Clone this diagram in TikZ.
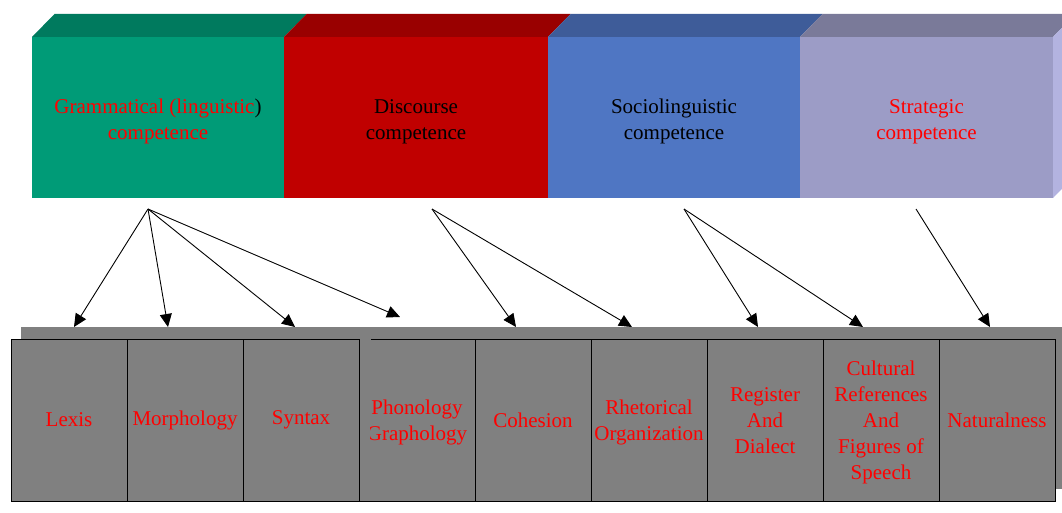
\documentclass[tikz,border=0pt]{standalone}
\usepackage{fontspec}
\setmainfont{Liberation Serif}
\usetikzlibrary{arrows.meta,positioning}

\definecolor{gramfront}{RGB}{0,155,119}
\definecolor{gramtop}{RGB}{0,122,94}
\definecolor{discfront}{RGB}{192,0,0}
\definecolor{disctop}{RGB}{153,0,0}
\definecolor{sociofront}{RGB}{79,118,195}
\definecolor{sociotop}{RGB}{62,92,153}
\definecolor{stratfront}{RGB}{156,156,198}
\definecolor{strattop}{RGB}{122,122,153}
\definecolor{stratside}{RGB}{179,179,224}
\definecolor{cellgray}{RGB}{128,128,128}

% stacked lines; the optional height pads the first line
\newcommand\lines[2][18.2pt]{\begin{tabular}{@{}c@{}}\rule{0pt}{#1}#2\end{tabular}}

\tikzset{
  face/.style={minimum height=161pt, inner sep=0pt, outer sep=0pt,
    font=\fontsize{21}{26}\selectfont},
  celltext/.style={text=red, inner sep=0pt, font=\fontsize{21}{26}\selectfont},
  cell/.style={celltext, draw=black, line width=0.9pt, fill=cellgray, minimum width=116pt,
    minimum height=162pt, outer sep=0pt},
  link/.style={-{Triangle[length=13pt,width=12pt]}, line width=0.9pt}
}

\begin{document}
\begin{tikzpicture}[x=1pt,y=-1pt]
	\useasboundingbox (0,0) rectangle (1062,513);
	% competences
	\node[face, fill=gramfront, minimum width=252pt] (gram) at (158,117.5)
		{\lines[26.2pt]{\textcolor{red}{Grammatical (linguistic})\\\textcolor{red}{competence}}};
	\node[face, fill=discfront, minimum width=264pt, right=0pt of gram] (disc)
		{\lines[26.2pt]{Discourse\\competence}};
	\node[face, fill=sociofront, minimum width=252pt, right=0pt of disc] (socio)
		{\lines[26.2pt]{Sociolinguistic\\competence}};
	\node[face, fill=stratfront, minimum width=253pt, right=0pt of socio, text=red] (strat)
		{\lines[26.2pt]{Strategic\\competence}};
	\fill[gramtop] (gram.north west) -- ++(22.5,-23) -| ([xshift=22.5pt,yshift=23pt]gram.north east) -- (gram.north east) -- cycle;
	\fill[disctop] (disc.north west) -- ++(22.5,-23) -| ([xshift=22.5pt,yshift=23pt]disc.north east) -- (disc.north east) -- cycle;
	\fill[sociotop] (socio.north west) -- ++(22.5,-23) -| ([xshift=22.5pt,yshift=23pt]socio.north east) -- (socio.north east) -- cycle;
	\fill[strattop] (strat.north west) -- ++(22.5,-23) -| ([xshift=22.5pt,yshift=23pt]strat.north east) -- (strat.north east) -- cycle;
	\fill[stratside] (strat.north east) -- ++(22.5,-23) -- ++(0,161) -- (strat.south east) -- cycle;

	% components
	\fill[cellgray] (21,327) rectangle (1064,489);
	\node[cell] (lex) at (69,420) {Lexis};
	\node[cell, right=0pt of lex] (mor) {Morphology};
	\node[cell, right=0pt of mor] (syn) {Syntax};
	\node[cell, right=0pt of syn] (phon) {};
	\node[cell, right=0pt of phon] (coh) {Cohesion};
	\node[cell, right=0pt of coh] (rhe) {\lines[23.2pt]{Rhetorical\\Organization}};
	\node[cell, right=0pt of rhe] (reg) {\lines[23.2pt]{Register\\And\\Dialect}};
	\node[cell, right=0pt of reg] (cul) {\lines[23.2pt]{Cultural\\References\\And\\Figures of\\Speech}};
	\node[cell, right=0pt of cul] (nat) {Naturalness};
	\draw[cellgray, line width=1.4pt] ([xshift=0.8pt]phon.north west) -- ++(11,0);
	\begin{scope}
		\clip (370,330) rectangle (474,505);
		\node[celltext] (phontext) at (phon) {\lines[23.2pt]{Phonology\\Graphology}};
	\end{scope}

	% links
	\coordinate (gramfoot) at (148,209);
	\coordinate (discfoot) at (432,209);
	\coordinate (sociofoot) at (684,209);
	\coordinate (stratfoot) at (916,209);
	\foreach \n/\x in {lex/74, mor/168, syn/295, coh/516, rhe/632, reg/758, cul/863, nat/990}
		\coordinate (\n-tip) at (\x,327);
	\coordinate (phon-tip) at (400,317);
	\foreach \n in {lex, mor, syn, phon}
		\draw[link] (gramfoot) -- (\n-tip);
	\draw[link] (discfoot) -- (coh-tip);
	\draw[link] (discfoot) -- (rhe-tip);
	\draw[link] (sociofoot) -- (reg-tip);
	\draw[link] (sociofoot) -- (cul-tip);
	\draw[link] (stratfoot) -- (nat-tip);
\end{tikzpicture}
\end{document}
